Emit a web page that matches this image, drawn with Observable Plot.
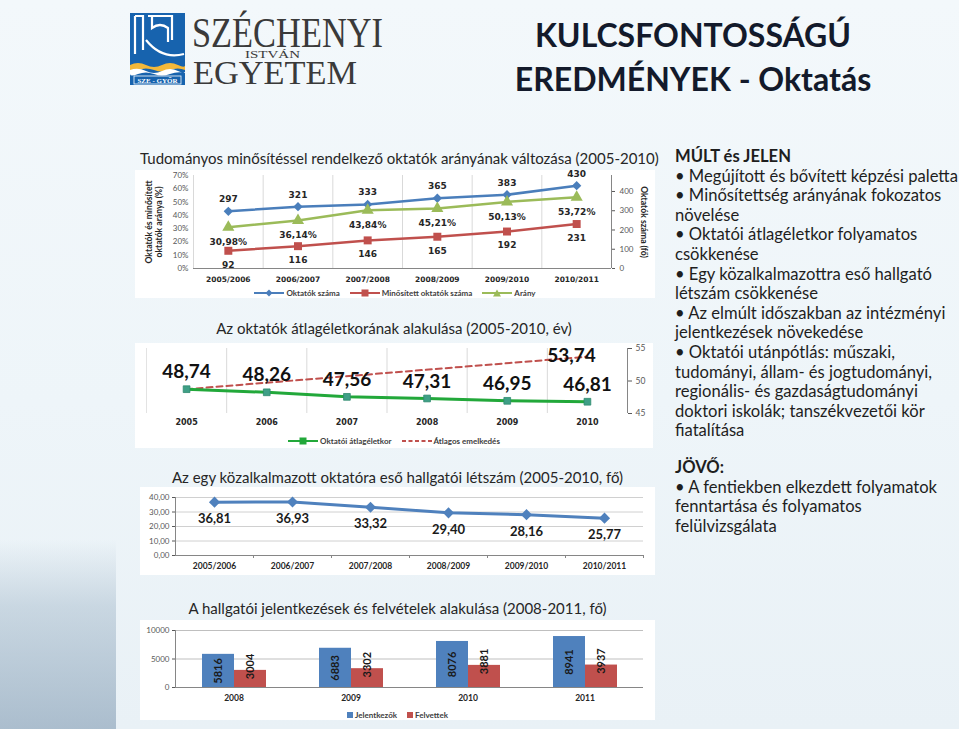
<!DOCTYPE html>
<html><head><meta charset="utf-8">
<script src="https://cdn.jsdelivr.net/npm/d3@7"></script>
<script src="https://cdn.jsdelivr.net/npm/@observablehq/plot@0.6"></script>
<style>
html,body{margin:0;padding:0;}
body{width:959px;height:729px;overflow:hidden;font-family:Lato,"Open Sans",sans-serif;}
#page{position:relative;width:959px;height:729px;overflow:hidden;
  background:linear-gradient(180deg,#f3f8fb 0%,#eef5f9 55%,#e9f1f6 100%);}
.ctitle{position:absolute;font-size:15px;color:#262626;white-space:nowrap;line-height:18px;}
.box{position:absolute;background:#fff;}
.box svg{display:block;overflow:visible;}
.legend{position:absolute;left:0;width:100%;text-align:center;font:bold 8px Lato,sans-serif;color:#404040;white-space:nowrap;line-height:10px;}
.legend span{display:inline-block;vertical-align:middle;}
.legend .it{margin:0 5px;}
.rtext{position:absolute;left:675px;font-size:16.6px;line-height:19.6px;color:#1e1e1e;white-space:nowrap;}
</style></head>
<body><div id="page">
<div style="position:absolute;left:0;top:540px;width:116px;height:189px;background:linear-gradient(180deg,rgba(160,182,200,0) 0%,rgba(160,182,200,0.45) 35%,rgba(150,172,192,0.75) 100%);"></div>

<svg style="position:absolute;left:128px;top:10px;overflow:visible" width="262" height="80" viewBox="0 0 262 80">
  <rect x="2" y="3" width="55" height="72" fill="#1763ae"/>
  <path d="M7 6 V44 M7 6 H15 V40" stroke="#fff" stroke-width="2.2" fill="none"/>
  <path d="M20 6 H44 V30 M24 6 V18 Q32 12 40 18 V32" stroke="#fff" stroke-width="2.2" fill="none"/>
  <path d="M18 30 Q34 50 56 44" stroke="#fff" stroke-width="2.2" fill="none"/>
  <path d="M2 55 Q10 51 18 55 T34 55 T50 55 T57 54 V60 Q50 57 42 60 T26 60 T10 60 T2 60 Z" fill="#f3b83a"/>
  <path d="M2 60 Q10 57 18 61 T34 61 T50 61 T57 60 V63 Q50 61 42 64 T26 64 T10 64 T2 64 Z" fill="#ffffff"/>
  <rect x="6" y="66" width="47" height="8" fill="none" stroke="#fff" stroke-width="0.8"/>
  <text x="29.5" y="72.6" text-anchor="middle" font-family="Liberation Serif" font-weight="bold" font-size="7" fill="#fff">SZE - GYŐR</text>
  <text x="64" y="37" font-family="Liberation Serif" font-size="42" fill="#3a3a3a" textLength="191" lengthAdjust="spacingAndGlyphs">SZÉCHENYI</text>
  <text x="117" y="47.5" font-family="Liberation Serif" font-size="11" fill="#3a3a3a" textLength="55" lengthAdjust="spacingAndGlyphs">ISTVÁN</text>
  <text x="65" y="73.5" font-family="Liberation Serif" font-size="34" fill="#3a3a3a" textLength="164" lengthAdjust="spacingAndGlyphs">EGYETEM</text>
</svg>

<div style="position:absolute;left:470px;top:13px;width:446px;text-align:center;font:bold 32px/44px Lato,sans-serif;color:#131a2b;white-space:nowrap;">KULCSFONTOSSÁGÚ<br>EREDMÉNYEK - Oktatás</div>

<div class="ctitle" style="left:140px;top:149px;">Tudományos minősítéssel rendelkező oktatók arányának változása (2005-2010)</div>
<div class="box" id="b1" style="left:135px;top:170px;width:520px;height:128px;"></div>

<div class="ctitle" style="left:135px;top:319px;width:518px;text-align:center;">Az oktatók átlagéletkorának alakulása (2005-2010, év)</div>
<div class="box" id="b2" style="left:135px;top:343px;width:518px;height:105px;"></div>

<div class="ctitle" style="left:140px;top:468px;width:515px;text-align:center;">Az egy közalkalmazott oktatóra eső hallgatói létszám (2005-2010, fő)</div>
<div class="box" id="b3" style="left:140px;top:487px;width:515px;height:88px;"></div>

<div class="ctitle" style="left:140px;top:599px;width:515px;text-align:center;">A hallgatói jelentkezések és felvételek alakulása (2008-2011, fő)</div>
<div class="box" id="b4" style="left:140px;top:620px;width:515px;height:100px;"></div>

<div class="rtext" style="top:147px;"><b>MÚLT és JELEN</b><br>• Megújított és bővített képzési paletta<br>• Minősítettség arányának fokozatos<br>növelése<br>• Oktatói átlagéletkor folyamatos<br>csökkenése<br>• Egy közalkalmazottra eső hallgató<br>létszám csökkenése<br>• Az elmúlt időszakban az intézményi<br>jelentkezések növekedése<br>• Oktatói utánpótlás: műszaki,<br>tudományi, állam- és jogtudományi,<br>regionális- és gazdaságtudományi<br>doktori iskolák; tanszékvezetői kör<br>fiatalítása</div>
<div class="rtext" style="top:458px;"><b>JÖVŐ:</b><br>• A fentiekben elkezdett folyamatok<br>fenntartása és folyamatos<br>felülvizsgálata</div>
</div>

<script>
// ---------- DATA ----------
// Chart 1
const c1Cats = ["2005/2006","2006/2007","2007/2008","2008/2009","2009/2010","2010/2011"];
const c1Oktatok = [297, 321, 333, 365, 383, 430];
const c1Minositett = [92, 116, 146, 165, 192, 231];
const c1Arany = [30.98, 36.14, 43.84, 45.21, 50.13, 53.72];
const c1PctTicks = [0, 10, 20, 30, 40, 50, 60, 70];
const c1CountTicks = [0, 100, 200, 300, 400];
const c1CountMax = 483;
const c1Series = ["Oktatók száma", "Minősített oktatók száma", "Arány"];
// Chart 2
const c2Years = ["2005","2006","2007","2008","2009","2010"];
const c2Age = [48.74, 48.26, 47.56, 47.31, 46.95, 46.81];
const c2TrendYears = ["2005","2010"];
const c2Trend = [48.74, 53.74];
const c2Ticks = [45, 50, 55];
const c2Series = ["Oktatói átlagéletkor", "Átlagos emelkedés"];
// Chart 3
const c3Cats = ["2005/2006","2006/2007","2007/2008","2008/2009","2009/2010","2010/2011"];
const c3Ratio = [36.81, 36.93, 33.32, 29.40, 28.16, 25.77];
const c3Ticks = [0, 10, 20, 30, 40];
// Chart 4
const c4Years = ["2008","2009","2010","2011"];
const c4Jelentkezok = [5816, 6883, 8076, 8941];
const c4Felvettek = [3004, 3302, 3881, 3937];
const c4Ticks = [0, 5000, 10000];
const c4Series = ["Jelentkezők", "Felvettek"];

const BLUE = "#4a7ebb", RED = "#c0504d", GREEN = "#9bbb59";
const comma = (v, d) => v.toFixed(d).replace(".", ",");

function legendHTML(items, top){
  const html = items.map(it => `<span class="it"><span>${it.sw}</span> <span>${it.label}</span></span>`).join("");
  return `<div class="legend" style="top:${top}px">${html}</div>`;
}
function lineSw(color, marker, dash){
  let m = "";
  if (marker === "diamond") m = `<path d="M15 0.5 L18.5 4 L15 7.5 L11.5 4Z" fill="${color}"/>`;
  if (marker === "square") m = `<rect x="11.5" y="0.5" width="7" height="7" fill="${color}"/>`;
  if (marker === "triangle") m = `<path d="M15 0.5 L19 7.5 L11 7.5Z" fill="${color}"/>`;
  return `<svg width="30" height="8" style="display:block"><line x1="0" y1="4" x2="30" y2="4" stroke="${color}" stroke-width="2" ${dash ? 'stroke-dasharray="4,2.5"' : ""}/>${m}</svg>`;
}
function boxSw(color){ return `<svg width="6" height="6" style="display:block"><rect width="6" height="6" fill="${color}"/></svg>`; }

// ---------- CHART 1 ----------
{
  const k = 70 / c1CountMax;
  const idx = d3.range(c1Cats.length);
  const lab = {fontFamily: "DejaVu Sans", fontWeight: "bold", fontSize: 9, fill: "#262626"};
  const p = Plot.plot({
    width: 520, height: 116,
    marginLeft: 58, marginRight: 44, marginTop: 5, marginBottom: 18,
    x: {domain: [-0.5, c1Cats.length - 0.5]},
    y: {domain: [0, 70]},
    style: {background: "transparent", fontFamily: "Lato, sans-serif", color: "#595959", overflow: "visible"},
    marks: [
      Plot.ruleX(d3.range(0.5, c1Cats.length - 1), {stroke: "#d9d9d9"}),
      Plot.ruleX([-0.5], {stroke: "#d9d9d9"}),
      Plot.ruleX([c1Cats.length - 0.5], {stroke: "#868686"}),
      Plot.ruleY([0], {stroke: "#868686"}),
      Plot.axisY(c1PctTicks, {anchor: "left", tickFormat: d => d + "%", tickSize: 0, tickPadding: 5, fontSize: 8, label: null}),
      Plot.axisY(c1CountTicks.map(v => v * k), {anchor: "right", tickFormat: v => String(Math.round(v / k)), tickSize: 3, tickPadding: 5, fontSize: 8, label: null}),
      Plot.axisX(idx, {tickFormat: i => c1Cats[i], tickSize: 0, tickPadding: 8, fontSize: 7.5, fontWeight: "bold", fontFamily: "DejaVu Sans", fill: "#262626", label: null}),
      Plot.text(["Oktatók és minősített\noktatók aránya (%)"], {frameAnchor: "left", textAnchor: "middle", rotate: -90, dx: -40, fontSize: 8.6, fontWeight: "bold", fill: "#262626", lineHeight: 1.2}),
      Plot.text(["Oktatók száma (fő)"], {frameAnchor: "right", textAnchor: "middle", rotate: 90, dx: 32, fontSize: 8.6, fontWeight: "bold", fill: "#262626"}),
      Plot.line(idx, {x: i => i, y: i => c1Oktatok[i] * k, stroke: BLUE, strokeWidth: 2.5}),
      Plot.line(idx, {x: i => i, y: i => c1Minositett[i] * k, stroke: RED, strokeWidth: 2.5}),
      Plot.line(idx, {x: i => i, y: i => c1Arany[i], stroke: GREEN, strokeWidth: 2.5}),
      Plot.dot(idx, {x: i => i, y: i => c1Oktatok[i] * k, symbol: "diamond2", r: 4.2, fill: BLUE}),
      Plot.dot(idx, {x: i => i, y: i => c1Minositett[i] * k, symbol: "square", r: 4.5, fill: RED}),
      Plot.dot(idx, {x: i => i, y: i => c1Arany[i], symbol: "triangle", r: 4.5, fill: GREEN}),
      Plot.text(idx, {x: i => i, y: i => c1Oktatok[i] * k, text: i => String(c1Oktatok[i]), dy: -12, ...lab}),
      Plot.text(idx, {x: i => i, y: i => c1Minositett[i] * k, text: i => String(c1Minositett[i]), dy: 14, ...lab}),
      Plot.text(idx, {x: i => i, y: i => c1Arany[i], text: i => comma(c1Arany[i], 2) + "%", dy: 15, ...lab})
    ]
  });
  const b = document.getElementById("b1");
  b.appendChild(p);
  b.insertAdjacentHTML("beforeend", legendHTML([
    {sw: lineSw(BLUE, "diamond"), label: c1Series[0]},
    {sw: lineSw(RED, "square"), label: c1Series[1]},
    {sw: lineSw(GREEN, "triangle"), label: c1Series[2]}
  ], 117));
}

// ---------- CHART 2 ----------
{
  const LG = "#22a83a", MK = "#3f9f86";
  const idx = d3.range(c2Years.length);
  const tIdx = d3.range(c2TrendYears.length);
  const tx = i => c2Years.indexOf(c2TrendYears[i]);
  const big = {fontFamily: "Lato, sans-serif", fontWeight: "bold", fontSize: 19, fill: "#111"};
  const p = Plot.plot({
    width: 518, height: 85,
    marginLeft: 11, marginRight: 26, marginTop: 5, marginBottom: 15,
    x: {domain: [-0.5, c2Years.length - 0.5]},
    y: {domain: [45, 55]},
    style: {background: "transparent", fontFamily: "Lato, sans-serif", color: "#595959", overflow: "visible"},
    marks: [
      Plot.ruleX(d3.range(0.5, c2Years.length - 1), {stroke: "#d9d9d9"}),
      Plot.ruleX([-0.5], {stroke: "#e3e3e3"}),
      Plot.ruleX([c2Years.length - 0.5], {stroke: "#868686"}),
      Plot.axisY(c2Ticks, {anchor: "right", tickSize: 4, tickPadding: 4, fontSize: 8.5, label: null}),
      Plot.axisX(idx, {tickFormat: i => c2Years[i], tickSize: 0, tickPadding: 6, fontSize: 8, fontWeight: "bold", fontFamily: "DejaVu Sans", fill: "#262626", label: null}),
      Plot.line(tIdx, {x: tx, y: i => c2Trend[i], stroke: RED, strokeWidth: 2, strokeDasharray: "6,4"}),
      Plot.line(idx, {x: i => i, y: i => c2Age[i], stroke: LG, strokeWidth: 3}),
      Plot.dot(idx, {x: i => i, y: i => c2Age[i], symbol: "square", r: 3.8, fill: MK, stroke: "#2f8a6e", strokeWidth: 0.8}),
      Plot.text(idx, {x: i => i, y: i => c2Age[i], text: i => comma(c2Age[i], 2), dy: -17, ...big}),
      Plot.text([tIdx.length - 1], {x: tx, y: i => c2Trend[i], text: i => comma(c2Trend[i], 2), dx: -16, dy: -1, ...big})
    ]
  });
  const b = document.getElementById("b2");
  b.appendChild(p);
  b.insertAdjacentHTML("beforeend", legendHTML([
    {sw: lineSw(LG, "square"), label: c2Series[0]},
    {sw: lineSw(RED, null, true), label: c2Series[1]}
  ], 92));
}

// ---------- CHART 3 ----------
{
  const idx = d3.range(c3Cats.length);
  const C = "#4f81bd";
  const p = Plot.plot({
    width: 515, height: 88,
    marginLeft: 35, marginRight: 12, marginTop: 10, marginBottom: 20,
    x: {domain: [-0.5, c3Cats.length - 0.5]},
    y: {domain: [0, 40]},
    style: {background: "transparent", fontFamily: "Lato, sans-serif", color: "#595959", overflow: "visible"},
    marks: [
      Plot.gridY(c3Ticks, {stroke: "#d0d0d0", strokeOpacity: 1}),
      Plot.ruleY([0], {stroke: "#868686"}),
      Plot.ruleX([-0.5], {stroke: "#868686"}),
      Plot.axisY(c3Ticks, {tickFormat: d => comma(d, 2), tickSize: 3, tickPadding: 3, fontSize: 8, label: null}),
      Plot.axisX(d3.range(0.5, c3Cats.length), {tickFormat: () => "", tickSize: 3, stroke: "#868686", label: null}),
      Plot.axisX(idx, {tickFormat: i => c3Cats[i], tickSize: 0, tickPadding: 7, fontSize: 8.5, fontWeight: "bold", fill: "#262626", label: null}),
      Plot.line(idx, {x: i => i, y: i => c3Ratio[i], stroke: C, strokeWidth: 3}),
      Plot.dot(idx, {x: i => i, y: i => c3Ratio[i], symbol: "diamond2", r: 5, fill: C}),
      Plot.text(idx, {x: i => i, y: i => c3Ratio[i], text: i => comma(c3Ratio[i], 2), dy: 17, fontSize: 13, fontWeight: "bold", fill: "#1a1a1a"})
    ]
  });
  document.getElementById("b3").appendChild(p);
}

// ---------- CHART 4 ----------
{
  const rows = c4Years.flatMap((yr, i) => [
    {year: yr, series: c4Series[0], value: c4Jelentkezok[i]},
    {year: yr, series: c4Series[1], value: c4Felvettek[i]}
  ]);
  const BB = "#4f81bd", RR = "#c0504d";
  const lab = {fontSize: 11, fontWeight: "bold", fill: "#1a1a1a", rotate: -90};
  const p = Plot.plot({
    width: 515, height: 88,
    marginLeft: 34, marginRight: 11, marginTop: 10, marginBottom: 21,
    fx: {domain: c4Years, padding: 0, label: null},
    x: {domain: c4Series, paddingInner: 0, paddingOuter: 0.78, axis: null},
    y: {domain: [0, 10000]},
    color: {domain: c4Series, range: [BB, RR]},
    style: {background: "transparent", fontFamily: "Lato, sans-serif", color: "#595959", overflow: "visible"},
    marks: [
      Plot.gridY(c4Ticks, {stroke: "#bfbfbf", strokeOpacity: 1}),
      Plot.frame({anchor: "left", facetAnchor: "left", stroke: "#868686"}),
      Plot.axisY(c4Ticks, {tickFormat: d => String(d), tickSize: 3, tickPadding: 3, fontSize: 8, label: null}),
      Plot.axisFx({anchor: "bottom", tickSize: 0, tickPadding: 7, fontSize: 8.5, fontWeight: "bold", fill: "#262626", label: null}),
      Plot.barY(rows, {fx: "year", x: "series", y: "value", fill: "series", inset: 0}),
      Plot.ruleY([0], {stroke: "#868686"}),
      Plot.text(rows.filter(d => d.series === c4Series[0]), {fx: "year", x: "series", y: d => d.value / 2, text: d => String(d.value), ...lab}),
      Plot.text(rows.filter(d => d.series === c4Series[1]), {fx: "year", x: "series", y: d => d.value, text: d => String(d.value), textAnchor: "middle", dy: -4, ...lab})
    ]
  });
  const b = document.getElementById("b4");
  b.appendChild(p);
  b.insertAdjacentHTML("beforeend", legendHTML([
    {sw: boxSw(BB), label: c4Series[0]},
    {sw: boxSw(RR), label: c4Series[1]}
  ], 89));
}
</script>
</body></html>
